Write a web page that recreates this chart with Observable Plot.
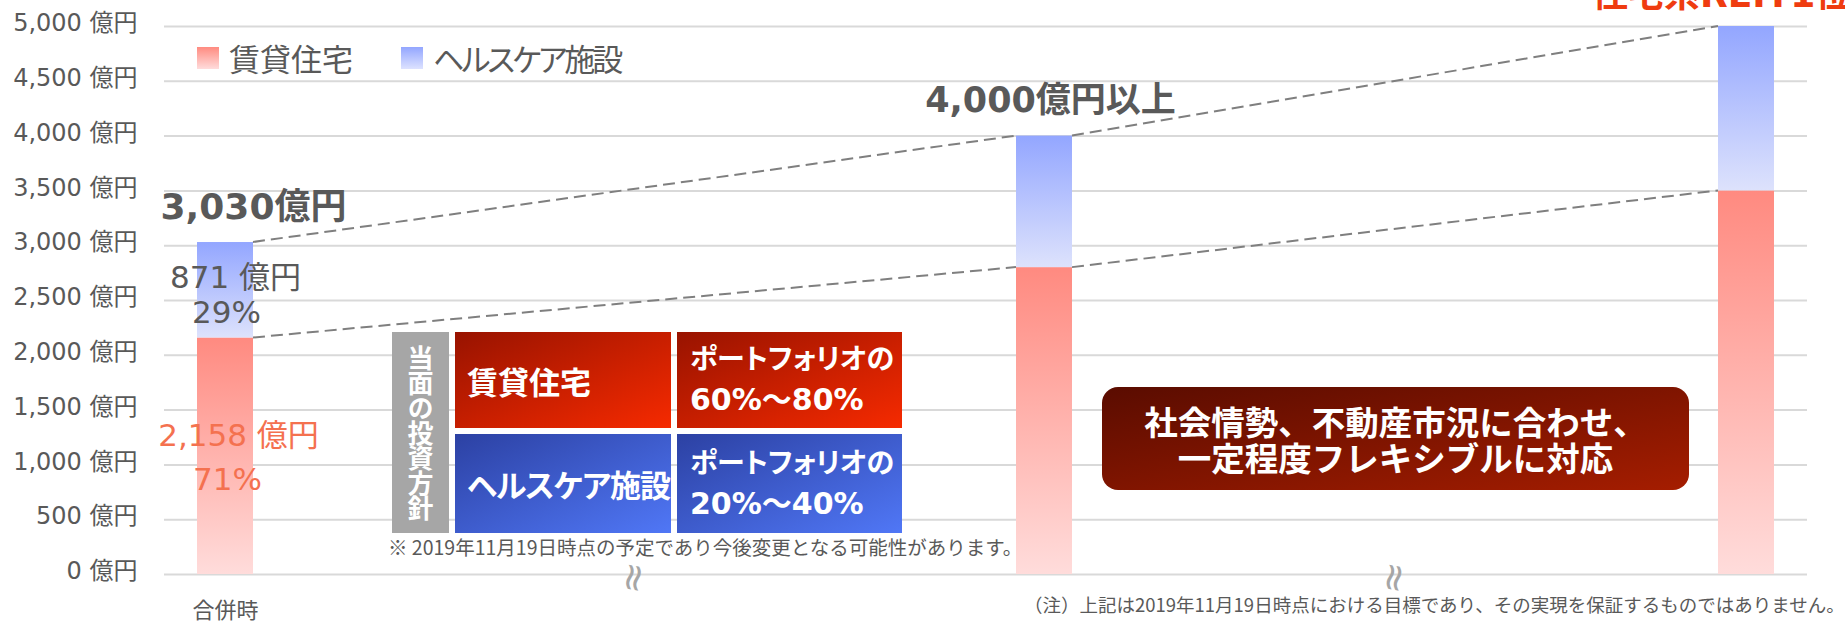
<!DOCTYPE html>
<html><head><meta charset="utf-8">
<script src="https://cdn.jsdelivr.net/npm/d3@7"></script>
<script src="https://cdn.jsdelivr.net/npm/@observablehq/plot@0.6"></script>
<style>
html,body{margin:0;padding:0;background:#fff;}
#wrap{position:relative;width:1845px;height:621px;overflow:hidden;font-family:'Noto Sans CJK JP',sans-serif;}
#chart svg{display:block;}
.abs{position:absolute;white-space:nowrap;}
.lg{color:#595959;font-size:31px;line-height:31px;display:flex;align-items:center;}
.lg .sw{width:22px;height:22px;margin-right:10px;flex:none;}
.palt{font-feature-settings:"palt";}
.tbl{display:grid;grid-template-columns:57px 216px 225px;grid-template-rows:96px 99px;gap:6px;}
.tbl .head{grid-row:1/3;background:#a6a6a6;color:#fff;font-weight:bold;font-size:26px;writing-mode:vertical-rl;text-orientation:upright;display:flex;align-items:center;justify-content:center;letter-spacing:-1px;}
.tbl .c{color:#fff;font-weight:bold;display:flex;align-items:center;}
.tbl .name{font-size:31px;padding-left:12px;}
.tbl .name.kana{letter-spacing:-1px;}
.tbl .rng{padding-left:13px;line-height:38px;}
.tbl .rng .k{font-size:28px;}
.tbl .rng .n{font-size:30px;font-family:'DejaVu Sans','Noto Sans CJK JP',sans-serif;}
.red{background:linear-gradient(to bottom right,#981300,#f62a00);}
.blue{background:linear-gradient(to bottom right,#2c41a3,#5077f6);}
.box{left:1102px;top:387px;width:587px;height:103px;border-radius:16px;background:linear-gradient(to bottom right,#5a0c00,#a51d00);color:#fff;font-weight:bold;font-size:33.5px;line-height:36px;display:flex;align-items:center;justify-content:center;text-align:center;}
.note{color:#595959;}
.top{left:1592px;top:-23px;color:#ef3c10;font-weight:bold;font-size:36px;line-height:36px;font-family:'DejaVu Sans','Noto Sans CJK JP',sans-serif;}
</style>
</head><body>
<svg width="0" height="0" style="position:absolute">
 <defs>
  <linearGradient id="gR" x1="0" y1="0" x2="0" y2="1"><stop offset="0" stop-color="#ff8a80"/><stop offset="1" stop-color="#ffdcdb"/></linearGradient>
  <linearGradient id="gB" x1="0" y1="0" x2="0" y2="1"><stop offset="0" stop-color="#93a6ff"/><stop offset="1" stop-color="#dde2fc"/></linearGradient>
 </defs>
</svg>
<div id="wrap">
 <div id="chart"></div>
</div>
<script>
// ---- data ----
const stages = ["合併時", "目標", "将来目標"];
const series = ["賃貸住宅", "ヘルスケア施設"];
const residential = [2158, 2800, 3500];
const healthcare = [871, 1200, 1500];
const totalLabels = ["3,030億円", "4,000億円以上"];
const yTicks = [0, 500, 1000, 1500, 2000, 2500, 3000, 3500, 4000, 4500, 5000];
const policyRanges = ["60%～80%", "20%～40%"];
const policyHead = "当面の投資方針";
const policyLead = "ポートフォリオの";
const boxLines = ["社会情勢、不動産市況に合わせ、", "一定程度フレキシブルに対応"];
const note1 = "※ 2019年11月19日時点の予定であり今後変更となる可能性があります。";
const note2 = "（注）上記は2019年11月19日時点における目標であり、その実現を保証するものではありません。";
const topText = "住宅系REIT1位";

// ---- derived ----
const rows = stages.flatMap((s, i) => [
  {stage: s, series: series[0], value: residential[i]},
  {stage: s, series: series[1], value: healthcare[i]}
]);
const totals = stages.map((s, i) => residential[i] + healthcare[i]);
const totalRows = totalLabels.map((l, i) => ({stage: stages[i], total: totals[i], label: l}));
const firstRows = rows.filter(d => d.stage === stages[0]);
const fmt = d3.format(",");
const pct = d => Math.round(100 * d.value / totals[0]) + "%";
const xDomain = [stages[0], ...["a","b","c","d","e","f"].map(k => "_" + k), stages[1], ...["g","h","i","j","k"].map(k => "_" + k), stages[2]];
const FONT = "'DejaVu Sans','Noto Sans CJK JP',sans-serif";
const GRAY = "#595959";
const SALMON = "#f4714f";

function connectors(index, scales) {
  const x = scales.x, y = scales.y;
  const bw = typeof x.bandwidth === "function" ? x.bandwidth() : 0;
  const g = d3.create("svg:g");
  for (const arr of [residential, totals]) {
    for (let i = 0; i < stages.length - 1; i++) {
      g.append("line")
        .attr("x1", x(stages[i]) + bw).attr("y1", y(arr[i]))
        .attr("x2", x(stages[i + 1])).attr("y2", y(arr[i + 1]))
        .attr("stroke", "#7f7f7f").attr("stroke-width", 2).attr("stroke-dasharray", "12 6");
    }
  }
  for (let i = 0; i < stages.length - 1; i++) {
    const cx = (x(stages[i]) + x(stages[i + 1])) / 2 + bw / 2;
    g.append("text").text("≈")
      .attr("transform", `translate(${cx},${y(0) + 4}) rotate(100)`)
      .attr("text-anchor", "middle").attr("dominant-baseline", "central")
      .attr("fill", "#a6a6a6").attr("font-size", 38).attr("font-family", FONT);
  }
  return g.node();
}

const chart = Plot.plot({
  width: 1845, height: 621,
  marginTop: 26, marginBottom: 47, marginLeft: 164, marginRight: 38,
  style: {fontFamily: FONT, color: GRAY, background: "transparent"},
  x: {domain: xDomain, paddingInner: 0.523, paddingOuter: 0.2615},
  y: {domain: [0, 5000]},
  color: {domain: series, range: ["url(#gR)", "url(#gB)"]},
  marks: [
    Plot.gridY(yTicks, {stroke: "#d9d9d9", strokeOpacity: 1, strokeWidth: 2}),
    Plot.axisY(yTicks, {tickSize: 0, tickPadding: 27, fontSize: 24, color: GRAY, dy: -3, label: null, tickFormat: d => fmt(d) + " 億円"}),
    Plot.axisX([stages[0]], {tickSize: 0, tickPadding: 28, fontSize: 22, color: GRAY, label: null}),
    connectors,
    Plot.barY(rows, {x: "stage", y: "value", fill: "series"}),
    Plot.text(firstRows, Plot.stackY({x: "stage", y: "value", text: d => d.series === series[1] ? fmt(d.value) + " 億円" : null, dy: -12, dx: 10, fontSize: 31, fill: GRAY})),
    Plot.text(firstRows, Plot.stackY({x: "stage", y: "value", text: d => d.series === series[1] ? pct(d) : null, dy: 23, dx: 1, fontSize: 31, fill: GRAY})),
    Plot.text(firstRows, Plot.stackY({x: "stage", y: "value", text: d => d.series === series[0] ? fmt(d.value) + " 億円" : null, dy: -20, dx: 13, fontSize: 31, fill: SALMON})),
    Plot.text(firstRows, Plot.stackY({x: "stage", y: "value", text: d => d.series === series[0] ? pct(d) : null, dy: 24, dx: 2, fontSize: 31, fill: SALMON})),
    Plot.text(totalRows.slice(0, 1), {x: "stage", y: "total", text: "label", dy: -35, dx: 28, fontSize: 36, fontWeight: "bold", fill: GRAY}),
    Plot.text(totalRows.slice(1, 2), {x: "stage", y: "total", text: "label", dy: -35, dx: 6, fontSize: 35, fontWeight: "bold", fill: GRAY})
  ]
});
const wrap = document.getElementById("wrap");
document.getElementById("chart").appendChild(chart);

function add(cls, style, html) {
  const d = document.createElement("div");
  d.className = "abs " + cls;
  d.setAttribute("style", style);
  d.innerHTML = html;
  wrap.appendChild(d);
  return d;
}
// legend
add("lg", "left:197px;top:42px", `<span class="sw" style="background:linear-gradient(#ff8b80,#ffdcdc)"></span><span>${series[0]}</span>`);
add("lg palt", "left:401px;top:42px", `<span class="sw" style="background:linear-gradient(#93a6ff,#dde2ff)"></span><span style="letter-spacing:-3px">${series[1]}</span>`);
// policy table
add("tbl palt", "left:392px;top:332px", `
  <div class="head">${policyHead}</div>
  <div class="c red name">${series[0]}</div>
  <div class="c red rng"><div><span class="k">${policyLead}</span><br><span class="n">${policyRanges[0]}</span></div></div>
  <div class="c blue name kana">${series[1]}</div>
  <div class="c blue rng"><div><span class="k">${policyLead}</span><br><span class="n">${policyRanges[1]}</span></div></div>`);
// box
add("box", "", `<div>${boxLines[0]}<br>${boxLines[1]}</div>`);
// notes
add("note", "left:388px;top:537px;font-size:19.5px;line-height:20px", note1);
add("note", "left:1024px;top:594px;font-size:18.5px;line-height:20px", note2);
add("top", "", topText);
</script>
</body></html>
